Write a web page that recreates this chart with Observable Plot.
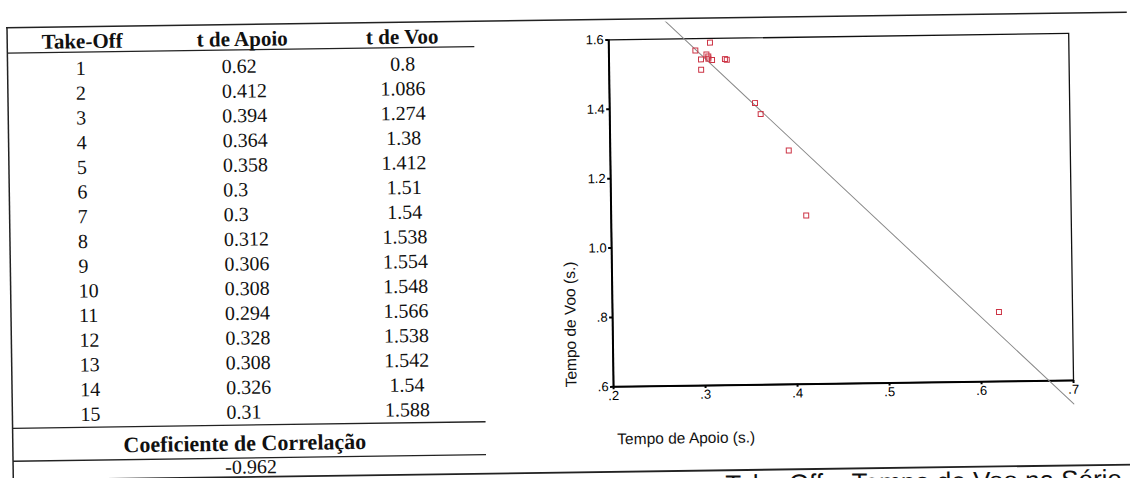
<!DOCTYPE html>
<html><head><meta charset="utf-8">
<script src="https://cdn.jsdelivr.net/npm/d3@7"></script>
<script src="https://cdn.jsdelivr.net/npm/@observablehq/plot@0.6"></script>
<style>
html,body{margin:0;padding:0;background:#fff;overflow:hidden;width:1130px;height:478px;}
#page{position:absolute;left:0;top:0;width:1130px;height:478px;transform:rotate(-0.8deg);transform-origin:565px 239px;}
#table{position:absolute;left:0;top:0;}
#chart{position:absolute;left:540px;top:23px;}
</style></head><body>
<div id="page"><svg id="table" width="1130" height="520"></svg><div id="chart"></div></div>
<script>
// ---- data ----
const takeOff = [1, 2, 3, 4, 5, 6, 7, 8, 9, 10, 11, 12, 13, 14, 15];
const tApoio = [0.62, 0.412, 0.394, 0.364, 0.358, 0.3, 0.3, 0.312, 0.306, 0.308, 0.294, 0.328, 0.308, 0.326, 0.31];
const tVoo = [0.8, 1.086, 1.274, 1.38, 1.412, 1.51, 1.54, 1.538, 1.554, 1.548, 1.566, 1.538, 1.542, 1.54, 1.588];
const correlacao = -0.962;
const headers = ["Take-Off", "t de Apoio", "t de Voo"];
const corrLabel = "Coeficiente de Correlação";
const xTicks = [0.2, 0.3, 0.4, 0.5, 0.6, 0.7];
const xTickLabels = [".2", ".3", ".4", ".5", ".6", ".7"];
const yTicks = [0.6, 0.8, 1.0, 1.2, 1.4, 1.6];
const yTickLabels = [".6", ".8", "1.0", "1.2", "1.4", "1.6"];
const xTitle = "Tempo de Apoio (s.)";
const yTitle = "Tempo de Voo (s.)";
const caption = "Take-Off – Tempo de Voo na Série";

// ---- table ----
const tbl = d3.select("#table");
const serif = "'Liberation Serif','Times New Roman',serif";
const sans = "'Liberation Sans',Arial,sans-serif";
function hline(x1, x2, y1, y2, w) {
  tbl.append("line").attr("x1", x1).attr("x2", x2).attr("y1", y1).attr("y2", y2)
    .attr("stroke", "#222").attr("stroke-width", w);
}
hline(9, 1130, 20, 20, 1.5);
hline(10, 10, 20, 520, 1.5);
hline(10, 477, 45.3, 45.3, 1.3);
hline(10, 483, 420.6, 420.6, 1.3);
hline(10, 483, 453.5, 453.5, 1.3);
hline(10, 1130, 472.5, 472.5, 1.8);

const headX = [85, 245, 405];
tbl.selectAll("text.h").data(headers).join("text").attr("class", "h")
  .attr("x", (d, i) => headX[i]).attr("y", 41.5).attr("text-anchor", "middle")
  .attr("font-family", serif).attr("font-weight", "bold").attr("font-size", 21).attr("fill", "#111").text(d => d);

const rowY = i => 68.3 + 24.7 * i;
tbl.selectAll("text.c0").data(takeOff).join("text").attr("class", "c0")
  .attr("x", 78).attr("y", (d, i) => rowY(i)).attr("font-family", serif).attr("font-size", 20).attr("fill", "#111").text(d => String(d));
tbl.selectAll("text.c1").data(tApoio).join("text").attr("class", "c1")
  .attr("x", 224).attr("y", (d, i) => rowY(i)).attr("font-family", serif).attr("font-size", 20).attr("fill", "#111").text(d => String(d));
tbl.selectAll("text.c2").data(tVoo).join("text").attr("class", "c2")
  .attr("x", 405).attr("y", (d, i) => rowY(i)).attr("text-anchor", "middle").attr("font-family", serif).attr("font-size", 20).attr("fill", "#111").text(d => String(d));

tbl.append("text").attr("x", 242).attr("y", 446).attr("text-anchor", "middle")
  .attr("font-family", serif).attr("font-weight", "bold").attr("font-size", 22).attr("fill", "#111").text(corrLabel);
tbl.append("text").attr("x", 222).attr("y", 469)
  .attr("font-family", serif).attr("font-size", 20).attr("fill", "#111").text(String(correlacao));
tbl.append("text").attr("x", 722).attr("y", 495.6)
  .attr("font-family", sans).attr("font-size", 26).attr("fill", "#111").text(caption);

// ---- chart ----
const pts = tApoio.map((x, i) => ({x, y: tVoo[i]}));
const mx = d3.mean(tApoio), my = d3.mean(tVoo);
const slope = d3.sum(pts, d => (d.x - mx) * (d.y - my)) / d3.sum(pts, d => (d.x - mx) ** 2);
const icpt = my - slope * mx;
const xDom = [xTicks[0], xTicks[xTicks.length - 1]];
const yDom = [yTicks[0], yTicks[yTicks.length - 1]];
const fit = xDom.map(x => ({x, y: icpt + slope * x}));
const lab = (ticks, labels) => d => labels[ticks.findIndex(t => Math.abs(t - d) < 1e-9)];

const chart = Plot.plot({
  width: 560, height: 440,
  marginLeft: 71, marginRight: 29, marginTop: 17, marginBottom: 76,
  style: {background: "transparent", fontFamily: sans, fontSize: "13px", color: "#000", overflow: "hidden"},
  x: {domain: xDom},
  y: {domain: yDom},
  marks: [
    Plot.frame({stroke: "#111", strokeWidth: 1.3}),
    Plot.axisX({ticks: xTicks, tickFormat: lab(xTicks, xTickLabels), tickSize: 3, tickPadding: 1, strokeWidth: 2, label: null, fill: "#000"}),
    Plot.axisY({ticks: yTicks, tickFormat: lab(yTicks, yTickLabels), tickSize: 3, tickPadding: 2, strokeWidth: 2, label: null, fill: "#000"}),
    Plot.ruleX([xDom[0]], {stroke: "#000", strokeWidth: 2}),
    Plot.ruleY([yDom[0]], {stroke: "#000", strokeWidth: 2}),
    Plot.line(fit, {x: "x", y: "y", stroke: "#8a8a8a", strokeWidth: 1}),
    Plot.dot(pts, {x: "x", y: "y", symbol: "square", r: 2.8, stroke: "#cc3344", fill: "none", strokeWidth: 1}),
    Plot.text([yTitle], {frameAnchor: "bottom-left", dx: -42, rotate: -90, textAnchor: "start", lineAnchor: "middle", fontSize: 15.5, text: d => d, fill: "#111"}),
    Plot.text([xTitle], {frameAnchor: "bottom-left", dx: 3, dy: 52.6, textAnchor: "start", lineAnchor: "middle", fontSize: 15.5, text: d => d, fill: "#111"})
  ]
});
document.getElementById("chart").appendChild(chart);
</script>
</body></html>
